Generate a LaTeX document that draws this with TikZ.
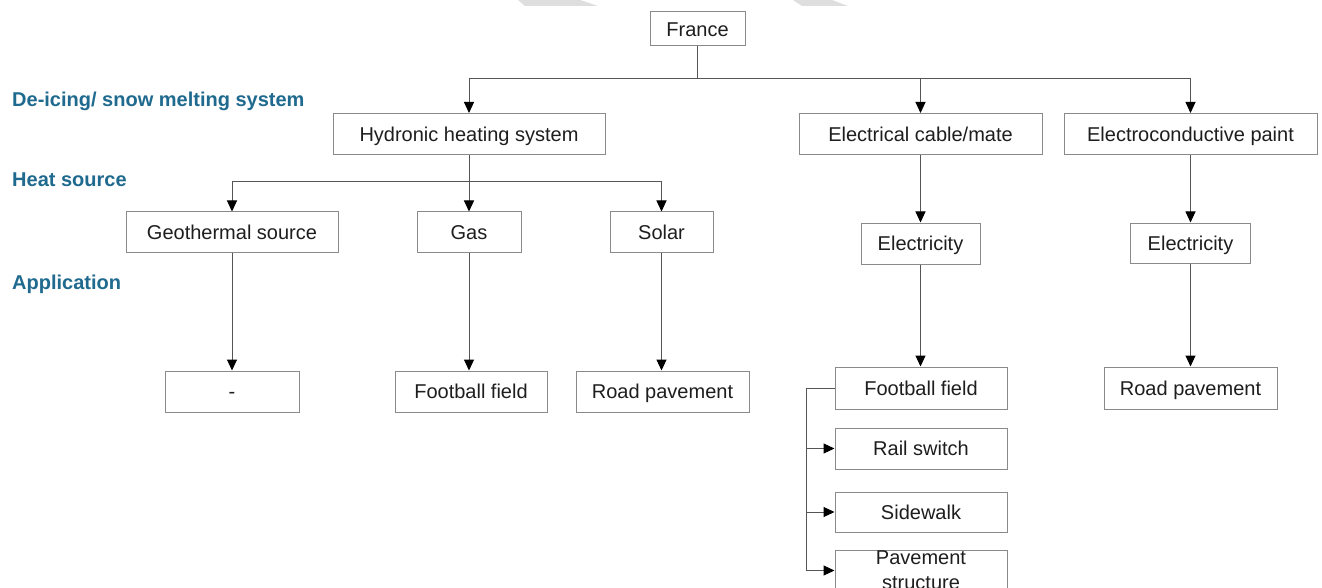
\documentclass[tikz,border=0pt]{standalone}
\usepackage{fontspec}
\setmainfont{Liberation Sans}
\usetikzlibrary{arrows.meta}
\definecolor{teal1}{HTML}{1F6A8E}
\definecolor{boxline}{HTML}{8A8A8A}
\definecolor{conn}{HTML}{555555}
\definecolor{wm}{HTML}{DEDEDE}
\definecolor{txt}{HTML}{1E1E1E}
\begin{document}
\begin{tikzpicture}[x=1pt,y=-1pt,
  box/.style={draw=boxline,line width=1pt,inner sep=0pt,fill=white,
    font=\fontsize{20}{25}\selectfont,text=txt,align=center},
  one/.style={text height=18pt,text depth=3.5pt},
  lbl/.style={anchor=base west,inner sep=0pt,text=teal1,
    font=\fontsize{20}{24}\selectfont\bfseries},
  link/.style={draw=conn,line width=1pt},
  arr/.style={draw=conn,line width=1pt,-{Triangle[length=11pt,width=10pt,color=black]}}]
\path[use as bounding box] (0,0) rectangle (1322,588);
\clip (0,0) rectangle (1322,588);
\fill[white] (0,0) rectangle (1322,588);
% watermark fragments
\fill[wm] (518,0) -- (580,0) -- (598,6) -- (525,6) -- cycle;
\fill[wm] (793,0) -- (832,0) -- (848,6) -- (802,6) -- cycle;
% level labels
\node[lbl] (l1) at (12,107) {De-icing/ snow melting system};
\node[lbl] (l2) at (12,187) {Heat source};
\node[lbl] (l3) at (12,289) {Application};
% boxes
\node[box,one,minimum width=95pt,minimum height=34pt] (france) at (697.5,29) {France};
\node[box,one,minimum width=272pt,minimum height=41pt] (hyd) at (469,134) {Hydronic heating system};
\node[box,one,minimum width=243pt,minimum height=41pt] (ecab) at (920.5,134) {Electrical cable/mate};
\node[box,one,minimum width=253pt,minimum height=41pt] (epaint) at (1190.5,134) {Electroconductive paint};
\node[box,one,minimum width=212pt,minimum height=40pt] (geo) at (232,232) {Geothermal source};
\node[box,one,minimum width=104pt,minimum height=40pt] (gas) at (469,232) {Gas};
\node[box,one,minimum width=103pt,minimum height=40pt] (solar) at (661.5,232) {Solar};
\node[box,one,minimum width=119pt,minimum height=41pt] (elec1) at (920.5,243.5) {Electricity};
\node[box,one,minimum width=120pt,minimum height=40pt] (elec2) at (1190.5,243) {Electricity};
\node[box,one,minimum width=134pt,minimum height=41pt] (dash) at (232,391.5) {-};
\node[box,one,minimum width=152pt,minimum height=41pt] (ff1) at (471,391.5) {Football field};
\node[box,one,minimum width=173pt,minimum height=41pt] (road1) at (662.5,391.5) {Road pavement};
\node[box,one,minimum width=172pt,minimum height=42pt] (ff2) at (921,388) {Football field};
\node[box,one,minimum width=172pt,minimum height=41pt] (rail) at (921,448.5) {Rail switch};
\node[box,one,minimum width=172pt,minimum height=40pt] (side) at (921,512) {Sidewalk};
\node[box,minimum width=172pt,minimum height=41pt] (pave) at (921,570.5) {Pavement\\structure};
\node[box,one,minimum width=173pt,minimum height=42pt] (road2) at (1190.5,388) {Road pavement};
% France level
\coordinate (fj) at (697.5,79);
\draw[link] (france.south) -- (fj);
\draw[link] (hyd.north |- fj) -- (epaint.north |- fj);
\draw[arr] (hyd.north |- fj) -- (hyd.north);
\draw[arr] (ecab.north |- fj) -- (ecab.north);
\draw[arr] (epaint.north |- fj) -- (epaint.north);
% heat source level
\coordinate (hj) at (469,182);
\draw[link] (geo.north |- hj) -- (solar.north |- hj);
\draw[arr] (hyd.south) -- (gas.north);
\draw[arr] (geo.north |- hj) -- (geo.north);
\draw[arr] (solar.north |- hj) -- (solar.north);
% applications
\draw[arr] (geo.south) -- (dash.north);
\draw[arr] (gas.south) -- (gas.south |- ff1.north);
\draw[arr] (solar.south) -- (solar.south |- road1.north);
\draw[arr] (ecab.south) -- (elec1.north);
\draw[arr] (elec1.south) -- (elec1.south |- ff2.north);
\draw[arr] (epaint.south) -- (epaint.south |- elec2.north);
\draw[arr] (elec2.south) -- (road2.north);
% bracket
\coordinate (bk) at (806,388);
\draw[link] (ff2.west) -- (bk) -- (bk |- pave.west);
\draw[arr] (bk |- rail.west) -- (rail.west);
\draw[arr] (bk |- side.west) -- (side.west);
\draw[arr] (bk |- pave.west) -- (pave.west);
\end{tikzpicture}
\end{document}
